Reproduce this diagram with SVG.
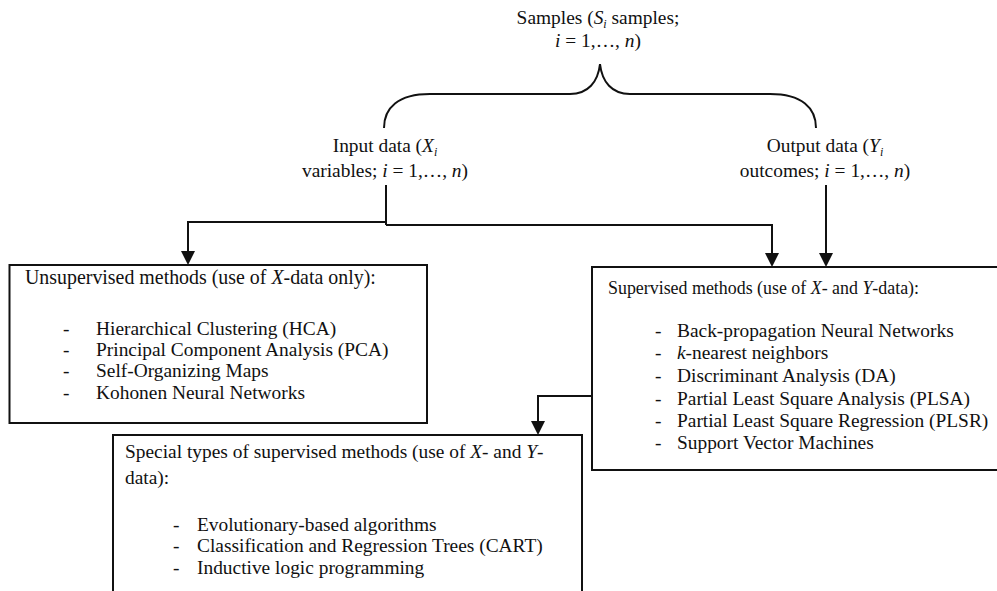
<svg xmlns="http://www.w3.org/2000/svg" width="997" height="591" viewBox="0 0 997 591">
<style>
text{font-family:"Liberation Serif","Times New Roman",serif;font-size:19.4px;fill:#111}
.c{text-anchor:middle}
.i{font-style:italic}
.s{font-size:12px;font-style:italic}
.box{fill:#fff;stroke:#111;stroke-width:2}
.ln{fill:none;stroke:#111;stroke-width:2}
</style>
<defs>
<marker id="ah" viewBox="0 0 14 14" refX="11" refY="7" markerWidth="14" markerHeight="14" markerUnits="userSpaceOnUse" orient="auto">
<path d="M0,0 L14,7 L0,14 z" fill="#111"/>
</marker>
</defs>
<rect width="997" height="591" fill="#fff"/>
<g id="samples">
<text class="c" x="598" y="24">Samples (<tspan class="i">S</tspan><tspan class="s" dy="4">i</tspan><tspan dy="-4"> samples;</tspan></text>
<text class="c" x="598" y="47"><tspan class="i">i</tspan> = 1,…, <tspan class="i">n</tspan>)</text>
<path class="ln" d="M384,128 C384,108 398,94 430,94 H570 C588,94 598,82 600,64 C602,82 612,94 630,94 H770 C802,94 816,108 816,128"/>
</g>
<g id="input">
<text class="c" x="385" y="152">Input data (<tspan class="i">X</tspan><tspan class="s" dy="4">i</tspan></text>
<text class="c" x="385" y="177">variables; <tspan class="i">i</tspan> = 1,…, <tspan class="i">n</tspan>)</text>
</g>
<g id="output">
<text class="c" x="825" y="152">Output data (<tspan class="i">Y</tspan><tspan class="s" dy="4">i</tspan></text>
<text class="c" x="825" y="177">outcomes; <tspan class="i">i</tspan> = 1,…, <tspan class="i">n</tspan>)</text>
</g>
<g id="connectors">
<path class="ln" d="M386,185 V225"/>
<path class="ln" d="M386,222 H188 V262" marker-end="url(#ah)"/>
<path class="ln" d="M386,225 H772 V264" marker-end="url(#ah)"/>
<path class="ln" d="M826,185 V264" marker-end="url(#ah)"/>
<path class="ln" d="M592,396 H538 V432" marker-end="url(#ah)"/>
</g>
<g id="unsupervised">
<rect class="box" x="9.5" y="265" width="417.5" height="158"/>
<text x="25" y="284" style="font-size:19.9px">Unsupervised methods (use of <tspan class="i">X</tspan>-data only):</text>
<text x="63" y="335">-</text><text x="96" y="335">Hierarchical Clustering (HCA)</text>
<text x="63" y="356">-</text><text x="96" y="356">Principal Component Analysis (PCA)</text>
<text x="63" y="377">-</text><text x="96" y="377">Self-Organizing Maps</text>
<text x="63" y="399">-</text><text x="96" y="399">Kohonen Neural Networks</text>
</g>
<g id="supervised">
<rect class="box" x="592" y="267" width="410" height="203"/>
<text x="608" y="294" style="font-size:17.9px">Supervised methods (use of <tspan class="i">X</tspan>- and <tspan class="i">Y</tspan>-data):</text>
<text x="655" y="337">-</text><text x="677" y="337">Back-propagation Neural Networks</text>
<text x="655" y="359">-</text><text x="677" y="359"><tspan class="i">k</tspan>-nearest neighbors</text>
<text x="655" y="382">-</text><text x="677" y="382">Discriminant Analysis (DA)</text>
<text x="655" y="405">-</text><text x="677" y="405">Partial Least Square Analysis (PLSA)</text>
<text x="655" y="427">-</text><text x="677" y="427">Partial Least Square Regression (PLSR)</text>
<text x="655" y="449">-</text><text x="677" y="449">Support Vector Machines</text>
</g>
<g id="special">
<rect class="box" x="113" y="435" width="469" height="170"/>
<text x="125" y="458">Special types of supervised methods (use of <tspan class="i">X</tspan>- and <tspan class="i">Y</tspan>-</text>
<text x="125" y="484">data):</text>
<text x="173" y="531">-</text><text x="197" y="531">Evolutionary-based algorithms</text>
<text x="173" y="552">-</text><text x="197" y="552">Classification and Regression Trees (CART)</text>
<text x="173" y="574">-</text><text x="197" y="574">Inductive logic programming</text>
</g>
</svg>
